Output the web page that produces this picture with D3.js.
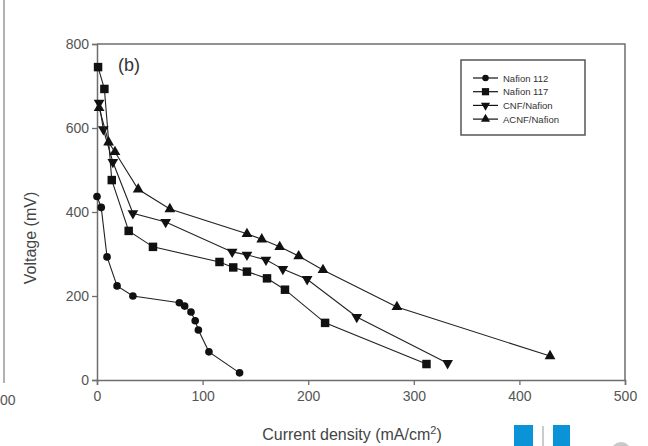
<!DOCTYPE html>
<html>
<head>
<meta charset="utf-8">
<script src="https://cdn.jsdelivr.net/npm/d3@7"></script>
<style>
  html, body { margin: 0; padding: 0; background: #fff; }
  svg { display: block; font-family: "Liberation Sans", Arial, sans-serif; }
</style>
</head>
<body>
<svg id="chart" width="648" height="446"></svg>
<script>
// Polarization curves: current density (mA/cm²) vs cell voltage (mV)
const seriesNames = ["Nafion 112", "Nafion 117", "CNF/Nafion", "ACNF/Nafion"];
const seriesSymbols = ["circle", "square", "triangleDown", "triangleUp"];

const nafion112 = [
  [0, 437], [4, 411], [9.5, 293], [19, 224], [34, 200], [78, 184], [83, 176],
  [89, 162], [93, 141], [96, 119], [106, 67], [135, 17]
];
const nafion117 = [
  [1, 745], [7, 693], [14, 476], [30, 355], [53, 317], [116, 281], [129, 268],
  [142, 258], [161, 242], [178, 215], [216, 136], [312, 38]
];
const cnfNafion = [
  [2, 660], [6, 597], [15, 519], [34, 397], [65, 376], [128, 305], [142, 298],
  [160, 286], [176, 264], [199, 240], [246, 150], [332, 40]
];
const acnfNafion = [
  [2, 648], [11, 566], [17, 543], [39, 454], [69, 407], [142, 348], [156, 335],
  [173, 317], [191, 295], [214, 262], [284, 174], [429, 57]
];
const allSeries = [nafion112, nafion117, cnfNafion, acnfNafion];

const xTicks = [0, 100, 200, 300, 400, 500];
const yTicks = [0, 200, 400, 600, 800];

const svg = d3.select("#chart");
const axisColor = "#6e6e6e";
const tickTextColor = "#555";

const x = d3.scaleLinear().domain([0, 500]).range([97, 625]);
const y = d3.scaleLinear().domain([0, 800]).range([380, 44]);

// Edge of the neighbouring panel on the left
svg.append("line").attr("x1", 4).attr("x2", 4).attr("y1", 0).attr("y2", 383)
  .attr("stroke", "#888").attr("stroke-width", 1.3);
svg.append("text").attr("x", 0).attr("y", 405).attr("text-anchor", "start")
  .attr("font-size", 14).attr("fill", tickTextColor).text("00");

// Frame: top and right borders
svg.append("path")
  .attr("d", `M${x(0)},${y(800)}H${x(500)}V${y(0)}`)
  .attr("fill", "none").attr("stroke", axisColor).attr("stroke-width", 1.5);

// Axes
const xAxis = d3.axisBottom(x).tickValues(xTicks).tickSize(5).tickPadding(6);
const yAxis = d3.axisLeft(y).tickValues(yTicks).tickSize(5).tickPadding(3);

const gx = svg.append("g").attr("transform", `translate(0,${y(0)})`).call(xAxis);
const gy = svg.append("g").attr("transform", `translate(${x(0)},0)`).call(yAxis);
[gx, gy].forEach(g => {
  g.select(".domain").attr("stroke", axisColor).attr("stroke-width", 1.5);
  g.selectAll(".tick line").attr("stroke", axisColor).attr("stroke-width", 1.3);
  g.selectAll(".tick text").attr("fill", tickTextColor).attr("font-size", 14)
    .attr("font-family", "Liberation Sans, Arial, sans-serif");
});

// Axis titles
svg.append("text")
  .attr("transform", `translate(36,238) rotate(-90)`)
  .attr("text-anchor", "middle").attr("font-size", 16).attr("fill", "#444")
  .text("Voltage (mV)");

const xt = svg.append("text").attr("x", 352).attr("y", 440)
  .attr("text-anchor", "middle").attr("font-size", 16).attr("fill", "#444");
xt.append("tspan").text("Current density (mA/cm");
xt.append("tspan").attr("dy", -6).attr("font-size", 11).text("2");
xt.append("tspan").attr("dy", 6).text(")");

// Panel label
svg.append("text").attr("x", 118).attr("y", 71).attr("font-size", 18)
  .attr("fill", "#333").text("(b)");

// Marker shapes
const symbolMap = {
  circle: d3.symbol().type(d3.symbolCircle).size(46),
  square: d3.symbol().type(d3.symbolSquare).size(72),
  triangleUp: d3.symbol().type(d3.symbolTriangle).size(50),
  triangleDown: d3.symbol().type(d3.symbolTriangle).size(50)
};
function drawMarker(g, kind, cx, cy, scale) {
  g.append("path")
    .attr("d", symbolMap[kind]())
    .attr("transform", `translate(${cx},${cy}) scale(${scale || 1})` + (kind === "triangleDown" ? " rotate(180)" : ""))
    .attr("fill", "#111");
}

const line = d3.line().x(d => x(d[0])).y(d => y(d[1]));

allSeries.forEach((data, i) => {
  const g = svg.append("g");
  g.append("path").datum(data).attr("d", line)
    .attr("fill", "none").attr("stroke", "#222").attr("stroke-width", 1.1);
  data.forEach(d => drawMarker(g, seriesSymbols[i], x(d[0]), y(d[1])));
});

// Legend
const legend = svg.append("g");
legend.append("rect").attr("x", 461).attr("y", 60).attr("width", 124).attr("height", 75)
  .attr("fill", "#fff").attr("stroke", "#555").attr("stroke-width", 1.5);
seriesNames.forEach((name, i) => {
  const ly = 78 + i * 13.7;
  legend.append("line").attr("x1", 473).attr("x2", 498).attr("y1", ly).attr("y2", ly)
    .attr("stroke", "#111").attr("stroke-width", 1.2);
  drawMarker(legend, seriesSymbols[i], 485.5, ly, 0.85);
  legend.append("text").attr("x", 503).attr("y", ly + 3.5)
    .attr("font-size", 9.5).attr("fill", "#333").text(name);
});

// Toolbar buttons along the bottom edge
svg.append("rect").attr("x", 514).attr("y", 425).attr("width", 19).attr("height", 21).attr("fill", "#0a93d6");
svg.append("line").attr("x1", 543).attr("x2", 543).attr("y1", 426).attr("y2", 446)
  .attr("stroke", "#999").attr("stroke-width", 1);
svg.append("rect").attr("x", 553).attr("y", 425).attr("width", 17).attr("height", 21).attr("fill", "#0a93d6");
svg.append("circle").attr("cx", 621).attr("cy", 452).attr("r", 10).attr("fill", "#c8c8c8");
</script>
</body>
</html>
